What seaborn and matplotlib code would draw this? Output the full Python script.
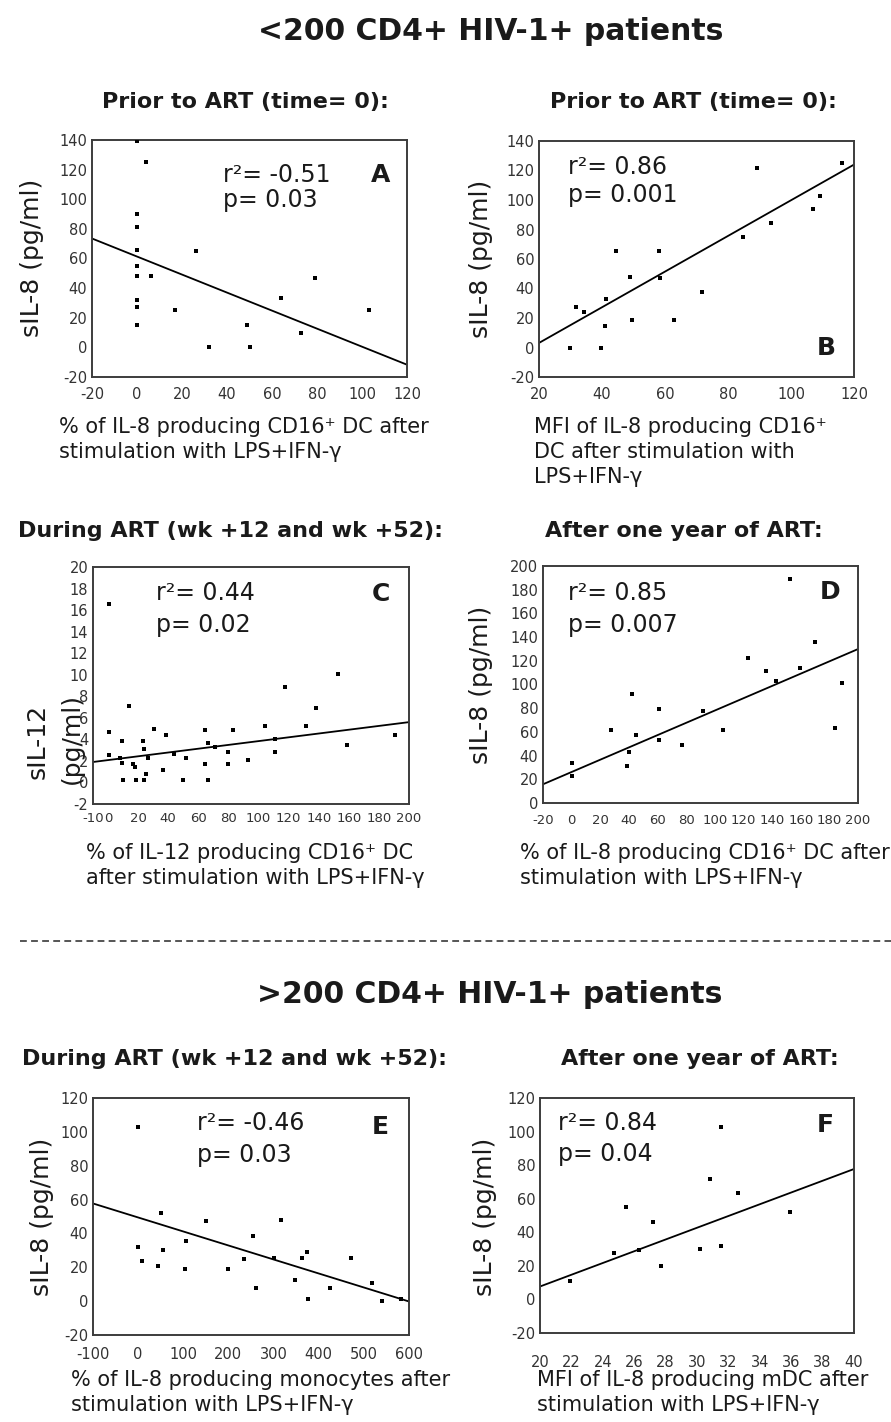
import matplotlib
matplotlib.use("Agg")
import matplotlib.pyplot as plt
import seaborn as sns

# ---------------- data ----------------
title_top = "<200 CD4+ HIV-1+ patients"
title_bottom = ">200 CD4+ HIV-1+ patients"

a_x = [0, 4, 0, 0, 0, 0, 0, 6, 0, 0, 0, 26, 17, 32, 49, 50, 64, 79, 73, 103]
a_y = [139, 125, 90, 81, 66, 55, 48, 48, 32, 27, 15, 65, 25, 0, 15, 0, 33, 47, 10, 25]
a_fit_x = [-20, 120]
a_fit_y = [73.5, -11.7]

b_x = [29.7, 39.8, 31.9, 34.2, 41.4, 41.1, 44.6, 49.0, 49.4, 58.1, 58.3, 62.8,
       71.6, 84.8, 89.2, 93.7, 106.9, 109.1, 116.3]
b_y = [0, 0, 27.5, 23.8, 33.1, 14.4, 65.6, 48, 18.4, 65.6, 47.1, 18.4,
       37.6, 75.1, 121.9, 84.4, 93.7, 102.5, 125.3]
b_fit_x = [20, 120]
b_fit_y = [3.1, 124]

c_x = [0.6, 0.6, 0.6, 9.5, 8.2, 9.5, 9.9, 13.9, 16.6, 17.7, 18.4, 23.2, 23.9, 23.9,
       25.4, 26.6, 30.5, 36.5, 38.7, 43.6, 52.0, 49.8, 64.2, 66.4, 64.2, 66.4, 70.9,
       79.7, 79.7, 83.0, 93.0, 104.1, 110.7, 110.7, 117.4, 131.3, 138.0, 152.6,
       159.0, 190.5]
c_y = [16.6, 4.7, 2.55, 3.85, 2.3, 1.85, 0.25, 7.1, 1.7, 1.4, 0.25, 3.85, 3.1, 0.25,
       0.8, 2.3, 5.0, 1.2, 4.4, 2.6, 2.3, 0.25, 4.85, 3.7, 1.75, 0.25, 3.3,
       2.8, 1.75, 4.85, 2.1, 5.2, 4.0, 2.8, 8.9, 5.2, 6.9, 10.1, 3.5, 4.4]
c_fit_x = [-10, 200]
c_fit_y = [1.9, 5.6]

d_x = [152.4, 0.2, 0.2, 27.4, 38.5, 40.4, 42.5, 45.0, 61.3, 61.3, 77.3, 92.0,
       105.4, 122.9, 135.4, 142.4, 159.8, 170.2, 184.0, 189.0]
d_y = [189, 33.8, 22.5, 61.4, 31.5, 43.1, 91.8, 57, 79.4, 53.5, 48.7, 77.5,
       61.4, 122.5, 111.5, 103.1, 114.1, 135.5, 63.4, 101.4]
d_fit_x = [-20, 200]
d_fit_y = [15.8, 129.9]

e_x = [0, 0, 8, 45, 51, 55, 105, 103, 150, 198, 235, 254, 262, 301, 317, 348,
       362, 375, 376, 426, 471, 519, 541, 583]
e_y = [102.9, 31.7, 23.7, 20.6, 51.8, 30.5, 35.7, 19.2, 47.6, 19.2, 24.7, 38.3,
       7.8, 25.6, 47.8, 12.4, 25.6, 29.1, 1.2, 7.8, 25.6, 10.7, -0.2, 1.0]
e_fit_x = [-100, 600]
e_fit_y = [57.7, -0.2]

f_x = [21.9, 24.7, 25.5, 26.3, 27.2, 27.7, 30.2, 30.8, 31.5, 31.5, 32.6, 35.9]
f_y = [10.8, 27.4, 55.0, 29.2, 46.4, 20.1, 30.0, 72.0, 102.8, 32.0, 63.5, 51.9]
f_fit_x = [20, 40]
f_fit_y = [7.7, 77.7]

stats_r = ["r²= -0.51", "r²= 0.86", "r²= 0.44", "r²= 0.85", "r²= -0.46", "r²= 0.84"]
stats_p = ["p= 0.03", "p= 0.001", "p= 0.02", "p= 0.007", "p= 0.03", "p= 0.04"]
letters = ["A", "B", "C", "D", "E", "F"]

subtitles = ["Prior to ART (time= 0):", "Prior to ART (time= 0):",
             "During ART (wk +12 and wk +52):", "After one year of ART:",
             "During ART (wk +12 and wk +52):", "After one year of ART:"]

xlabels = ["% of IL-8 producing CD16⁺ DC after\nstimulation with LPS+IFN-γ",
           "MFI of IL-8 producing CD16⁺\nDC after stimulation with\nLPS+IFN-γ",
           "% of IL-12 producing CD16⁺ DC\nafter stimulation with LPS+IFN-γ",
           "% of IL-8 producing CD16⁺ DC after\nstimulation with LPS+IFN-γ",
           "% of IL-8 producing monocytes after\nstimulation with LPS+IFN-γ",
           "MFI of IL-8 producing mDC after\nstimulation with LPS+IFN-γ"]
ylabel_il8 = "sIL-8 (pg/ml)"
ylabel_il12 = ["sIL-12", "(pg/ml)"]

a_xticks = list(range(-20, 121, 20)); a_yticks = list(range(-20, 141, 20))
b_xticks = list(range(20, 121, 20)); b_yticks = list(range(-20, 141, 20))
c_xticks = [-10] + list(range(0, 201, 20)); c_yticks = list(range(-2, 21, 2))
d_xticks = list(range(-20, 201, 20)); d_yticks = list(range(0, 201, 20))
e_xticks = list(range(-100, 601, 100)); e_yticks = list(range(-20, 121, 20))
f_xticks = list(range(20, 41, 2)); f_yticks = list(range(-20, 121, 20))

# ---------------- figure ----------------
sns.set_theme(style="white")
plt.rcParams["font.family"] = ["DejaVu Sans"]

W, H = 891, 1422
fig = plt.figure(figsize=(W / 100, H / 100), dpi=100)
fig.patch.set_facecolor("white")


def fx(x):
    return x / W


def fy(y):
    return 1 - y / H


def axpos(l, t, r, b):
    return [l / W, 1 - b / H, (r - l) / W, (b - t) / H]


panels = [
    dict(x=a_x, y=a_y, fx_=a_fit_x, fy_=a_fit_y, xt=a_xticks, yt=a_yticks,
         box=(92, 140, 407, 377), xpad=7, xfs=10.5, stat=(0.416, 0.852, 0.747),
         let=(0.917, 0.852), xl=(59, 417, "left")),
    dict(x=b_x, y=b_y, fx_=b_fit_x, fy_=b_fit_y, xt=b_xticks, yt=b_yticks,
         box=(539, 141, 854, 377), xpad=7, xfs=10.5, stat=(0.092, 0.89, 0.771),
         let=(0.911, 0.123), xl=(534, 417, "left")),
    dict(x=c_x, y=c_y, fx_=c_fit_x, fy_=c_fit_y, xt=c_xticks, yt=c_yticks,
         box=(93, 567, 409, 804), xpad=5.5, xfs=9.5, stat=(0.2, 0.89, 0.755),
         let=(0.911, 0.886), xl=(86, 843, "left")),
    dict(x=d_x, y=d_y, fx_=d_fit_x, fy_=d_fit_y, xt=d_xticks, yt=d_yticks,
         box=(543, 566, 858, 803), xpad=8, xfs=9.5, stat=(0.079, 0.886, 0.75),
         let=(0.911, 0.89), xl=(520, 843, "left")),
    dict(x=e_x, y=e_y, fx_=e_fit_x, fy_=e_fit_y, xt=e_xticks, yt=e_yticks,
         box=(93, 1098, 409, 1335), xpad=8.5, xfs=10.5, stat=(0.329, 0.895, 0.76),
         let=(0.908, 0.878), xl=(71, 1370, "left")),
    dict(x=f_x, y=f_y, fx_=f_fit_x, fy_=f_fit_y, xt=f_xticks, yt=f_yticks,
         box=(540, 1098, 854, 1333), xpad=16, xfs=10.5, stat=(0.057, 0.895, 0.76),
         let=(0.908, 0.886), xl=(537, 1370, "left")),
]

ink = "#1a1a1a"
for i, p in enumerate(panels):
    ax = fig.add_axes(axpos(*p["box"]))
    sns.lineplot(x=p["fx_"], y=p["fy_"], ax=ax, color="black", linewidth=1.3)
    sns.scatterplot(x=p["x"], y=p["y"], ax=ax, marker="s", s=12, color="black",
                    linewidth=0, zorder=3)
    ax.set_xlim(p["xt"][0], p["xt"][-1])
    ax.set_ylim(p["yt"][0], p["yt"][-1])
    ax.set_xticks(p["xt"])
    ax.set_yticks(p["yt"])
    ax.set_xticklabels([str(v) for v in p["xt"]])
    ax.set_yticklabels([str(v) for v in p["yt"]])
    ax.tick_params(axis="x", length=0, pad=p["xpad"], labelsize=p["xfs"], colors="#333333")
    ax.tick_params(axis="y", length=0, pad=3.5, labelsize=10.5, colors="#333333")
    ax.set_xlabel("")
    ax.set_ylabel("")
    for s in ax.spines.values():
        s.set_color("#3c3c3c")
        s.set_linewidth(1.4)
    sx, sy1, sy2 = p["stat"]
    ax.text(sx, sy1, stats_r[i], transform=ax.transAxes, fontsize=17, va="center",
            ha="left", color=ink)
    ax.text(sx, sy2, stats_p[i], transform=ax.transAxes, fontsize=17, va="center",
            ha="left", color=ink)
    lx, ly = p["let"]
    ax.text(lx, ly, letters[i], transform=ax.transAxes, fontsize=18,
            fontweight="bold", va="center", ha="center", color=ink)
    xlx, xly, xha = p["xl"]
    fig.text(fx(xlx), fy(xly), xlabels[i], fontsize=15, ha=xha, va="top",
             linespacing=1.3, color=ink)

# y labels
for (cx, cy) in [(32, 258), (481, 259), (481, 685), (42, 1217), (485, 1217)]:
    fig.text(fx(cx), fy(cy), ylabel_il8, rotation=90, fontsize=18, ha="center",
             va="center", color=ink)
fig.text(fx(38), fy(741), ylabel_il12[0], rotation=90, fontsize=18, ha="center",
         va="center", color=ink)
fig.text(fx(72), fy(738), ylabel_il12[1], rotation=90, fontsize=18, ha="center",
         va="center", color=ink)

# titles
fig.text(fx(491), fy(40), title_top, fontsize=21.5, fontweight="bold", ha="center",
         va="baseline", color=ink)
fig.text(fx(490), fy(1003), title_bottom, fontsize=21.5, fontweight="bold",
         ha="center", va="baseline", color=ink)

# subtitles
sub_pos = [(245, 108), (693, 108), (231, 537), (684, 537), (234, 1065), (700, 1065)]
for txt, (cx, by) in zip(subtitles, sub_pos):
    fig.text(fx(cx), fy(by), txt, fontsize=16, fontweight="bold", ha="center",
             va="baseline", color=ink)

# dashed separator
fig.add_artist(plt.Line2D([fx(20), fx(891)], [fy(941), fy(941)], color="#555555",
                          linewidth=1.4, linestyle=(0, (3.5, 2.2))))

fig.savefig("out.png", dpi=100, facecolor="white")
